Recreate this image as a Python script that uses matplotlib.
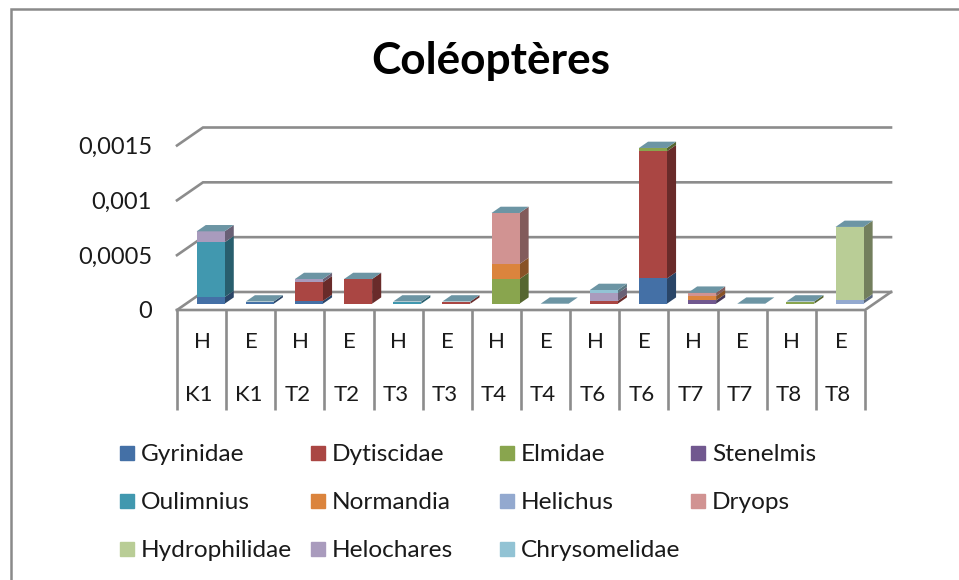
import numpy as np
import matplotlib.pyplot as plt
from matplotlib.lines import Line2D
from matplotlib.patches import Rectangle
from matplotlib.colors import to_rgb

plt.rcParams['font.family'] = ['Lato', 'DejaVu Sans']

saisons = ['H', 'E'] * 7
stations = ['K1', 'K1', 'T2', 'T2', 'T3', 'T3', 'T4', 'T4', 'T6', 'T6', 'T7', 'T7', 'T8', 'T8']

#valeurs, une liste par famille
gyrinidae      = [0.00006, 0.00002, 0.000025, 0, 0, 0, 0, 0, 0, 0.00023, 0, 0, 0, 0]
dytiscidae     = [0, 0, 0.00017, 0.000225, 0, 0.00002, 0, 0, 0.000025, 0.00116, 0, 0, 0, 0]
elmidae        = [0, 0, 0, 0, 0, 0, 0.000225, 0, 0, 0.00003, 0, 0, 0.00002, 0]
stenelmis      = [0, 0, 0, 0, 0, 0, 0, 0, 0, 0, 0.00003, 0, 0, 0]
oulimnius      = [0.0005, 0, 0, 0, 0.00002, 0, 0, 0, 0, 0, 0, 0, 0, 0]
normandia      = [0, 0, 0, 0, 0, 0, 0.000137, 0, 0, 0, 0.00004, 0, 0, 0]
helichus       = [0, 0, 0, 0, 0, 0, 0, 0, 0, 0, 0, 0, 0, 0.00003]
dryops         = [0, 0, 0, 0, 0, 0, 0.000465, 0, 0, 0, 0.00003, 0, 0, 0]
hydrophilidae  = [0, 0, 0, 0, 0, 0, 0, 0, 0, 0, 0, 0, 0, 0.00067]
helochares     = [0.0001, 0, 0.00003, 0, 0, 0, 0, 0, 0.00007, 0, 0, 0, 0, 0]
chrysomelidae  = [0, 0, 0, 0, 0, 0, 0, 0, 0.00003, 0, 0, 0, 0, 0]

noms = ['Gyrinidae', 'Dytiscidae', 'Elmidae', 'Stenelmis', 'Oulimnius', 'Normandia',
        'Helichus', 'Dryops', 'Hydrophilidae', 'Helochares', 'Chrysomelidae']
series = [gyrinidae, dytiscidae, elmidae, stenelmis, oulimnius, normandia,
          helichus, dryops, hydrophilidae, helochares, chrysomelidae]
couleurs = ['#4470A6', '#AA4643', '#89A54E', '#71588F', '#4198AF', '#DB843D',
            '#93A9CF', '#D19392', '#B9CD96', '#A99BBD', '#92C3D4']

W, H = 959, 580
gris = '#8C8C8C'
ticks_y = [0, 0.0005, 0.001, 0.0015]
labels_y = ['0', '0,0005', '0,001', '0,0015']

fig = plt.figure(figsize=(W / 100, H / 100), dpi=100)
#axe place sur le plan avant du graphique 3D
ax = fig.add_axes([177 / W, (H - 310) / H, 688 / W, 164.5 / H])
ax.set_xlim(0, 14)
ax.set_ylim(0, 0.0015)
for s in ax.spines.values():
    s.set_visible(False)

#profondeur de la perspective, en unites de donnees
prof_x = 26 / (688 / 14)
prof_y = 18 * 0.0015 / 164.5

def proj(x, v, d):
    return x + d * prof_x, v + d * prof_y

#grille et plancher
for v in ticks_y:
    xa, ya = proj(0, v, 0)
    xb, yb = proj(0, v, 1)
    xc, yc = proj(14, v, 1)
    ax.plot([xa, xb, xc], [ya, yb, yc], color=gris, lw=1.9, clip_on=False, zorder=1,
            solid_joinstyle='miter')
xa, ya = proj(14, 0, 0)
xb, yb = proj(14, 0, 1)
ax.plot([0, 14, xb], [0, 0, yb], color=gris, lw=1.9, clip_on=False, zorder=1)

#separateurs des categories
ax.vlines(np.arange(15), -100 / 164.5 * 0.0015, 0, color=gris, lw=1.9, clip_on=False, zorder=1)

#barres empilees
largeur = 0.57
d0, d1 = 0.35, 0.70
pos = np.arange(14) + 0.5
bas = np.zeros(14)
sombre = 0.62
for nom, val, c in zip(noms, series, couleurs):
    val = np.array(val)
    rgb = np.array(to_rgb(c))
    for i in np.nonzero(val)[0]:
        g = pos[i] - largeur / 2
        xf, yf = proj(g + largeur, bas[i], d0)
        xb, yb = proj(g + largeur, bas[i], d1)
        ax.fill([xf, xb, xb, xf], [yf, yb, yb + val[i], yf + val[i]],
                color=rgb * sombre, lw=0, clip_on=False, zorder=3)
    ax.bar(pos + d0 * prof_x, val, largeur, bottom=bas + d0 * prof_y, color=c,
           clip_on=False, zorder=3)
    bas = bas + val

#dessus des barres, couleur de la derniere serie
for i in range(14):
    g = pos[i] - largeur / 2
    coins = [proj(g, bas[i], d0), proj(g + largeur, bas[i], d0),
             proj(g + largeur, bas[i], d1), proj(g, bas[i], d1)]
    ax.fill([c[0] for c in coins], [c[1] for c in coins], color='#6C95A4', lw=0,
            clip_on=False, zorder=4)

#axes
ax.set_yticks(ticks_y, labels_y, fontsize=17, color='#1A1A1A')
ax.tick_params(axis='y', length=0, pad=18)
ax.set_xticks(pos + 0.01, saisons, fontsize=16, color='#1A1A1A')
ax.set_xticks(pos - 0.05, stations, minor=True, fontsize=16, color='#1A1A1A')
ax.tick_params(axis='x', which='major', length=0, pad=16)
ax.tick_params(axis='x', which='minor', length=0, pad=54)

fig.text(491 / W, 1 - 61 / H, 'Coléoptères', fontsize=31.8, fontweight='bold', color='black',
         ha='center', va='center')

#legende, colonnes de meme largeur comme dans Excel
col_x = [120, 311, 500, 691]
lig_y = [453, 501, 549]
for k, (nom, c) in enumerate(zip(noms, couleurs)):
    x0 = col_x[k % 4]
    y0 = lig_y[k // 4]
    fig.add_artist(Rectangle((x0 / W, 1 - (y0 + 7) / H), 14 / W, 14 / H, color=c,
                             transform=fig.transFigure))
    fig.text((x0 + 21) / W, 1 - (y0 + 1.5) / H, nom, fontsize=17.6, color='#1A1A1A', va='center', ha='left')

#cadre du graphique
fig.add_artist(Line2D([11 / W, 11 / W, 1], [0, 1 - 8.5 / H, 1 - 8.5 / H], color='#8A8A8A', lw=1.8,
                      transform=fig.transFigure, solid_joinstyle='miter'))

fig.savefig('out.png', dpi=100)
